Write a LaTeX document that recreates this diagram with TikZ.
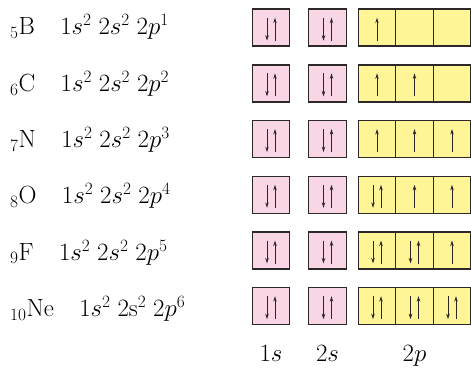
\documentclass[tikz,border=0pt]{standalone}
\definecolor{orbpink}{RGB}{249,214,229}
\definecolor{orbyellow}{RGB}{255,245,150}
\definecolor{orbline}{RGB}{45,40,40}
\usetikzlibrary{positioning, arrows.meta}

\begin{document}
\begin{tikzpicture}[x=1pt, y=-1pt,
    orbital/.style={draw=orbline, line width=1.4pt, minimum width=37.5pt,
      minimum height=37pt, inner sep=0pt, outer sep=0pt},
    sbox/.style={orbital, fill=orbpink},
    pbox/.style={orbital, fill=orbyellow},
    spin/.style={-{Stealth[length=5.5pt, width=3.5pt]}, line width=0.8pt, orbline},
    elem/.style={font=\fontsize{25}{30}\selectfont, inner sep=0pt, anchor=base west},
    shell/.style={font=\fontsize{25}{30}\selectfont, inner sep=0pt},
  ]
    \useasboundingbox (0,0) rectangle (471,369);

    % one row for each element
    \foreach \z/\el/\conf/\np [count=\i] in {
        5/B/{1s^2\;2s^2\;2p^1}/1,
        6/C/{1s^2\;2s^2\;2p^2}/2,
        7/N/{1s^2\;2s^2\;2p^3}/3,
        8/O/{1s^2\;2s^2\;2p^4}/4,
        9/F/{1s^2\;2s^2\;2p^5}/5,
        10/Ne/{1s^2\;2\mathrm{s}^2\;2p^6}/6} {
      \pgfmathsetmacro{\rowy}{27.7+55.7*(\i-1)}
      \pgfmathsetmacro{\texty}{35+56.3*(\i-1)}
      \node[elem] (e\i) at (10, \texty) {${}_{\z}\mathrm{\el}$};
      \node[elem, base right=25pt of e\i] (c\i) {$\conf$};

      \node[sbox] (s1-\i) at (271, \rowy) {};
      \node[sbox] (s2-\i) at (327.5, \rowy) {};
      \node[pbox] (p1-\i) at (377, \rowy) {};
      \node[pbox] (p2-\i) at (414.5, \rowy) {};
      \node[pbox] (p3-\i) at (452, \rowy) {};

      \foreach \b in {s1, s2} {
        \draw[spin] (\b-\i.center) ++(-4,-10) -- ++(0,23);
        \draw[spin] (\b-\i.center) ++(4,13) -- ++(0,-23);
      }
      \foreach \k in {1,2,3} {
        \ifnum\np>\numexpr\k+2\relax
          \draw[spin] (p\k-\i.center) ++(-4,-10) -- ++(0,23);
          \draw[spin] (p\k-\i.center) ++(4,13) -- ++(0,-23);
        \else\ifnum\np<\k\relax\else
          \draw[spin] (p\k-\i.center) ++(0,13) -- ++(0,-23);
        \fi\fi
      }
    }

    % subshell labels
    \node[shell, below=21pt of s1-6] (l1) {$1s$};
    \node[shell, below=21pt of s2-6] (l2) {$2s$};
    \node[shell, below=21pt of p2-6] (l3) {$2p$};
  \end{tikzpicture}
\end{document}
